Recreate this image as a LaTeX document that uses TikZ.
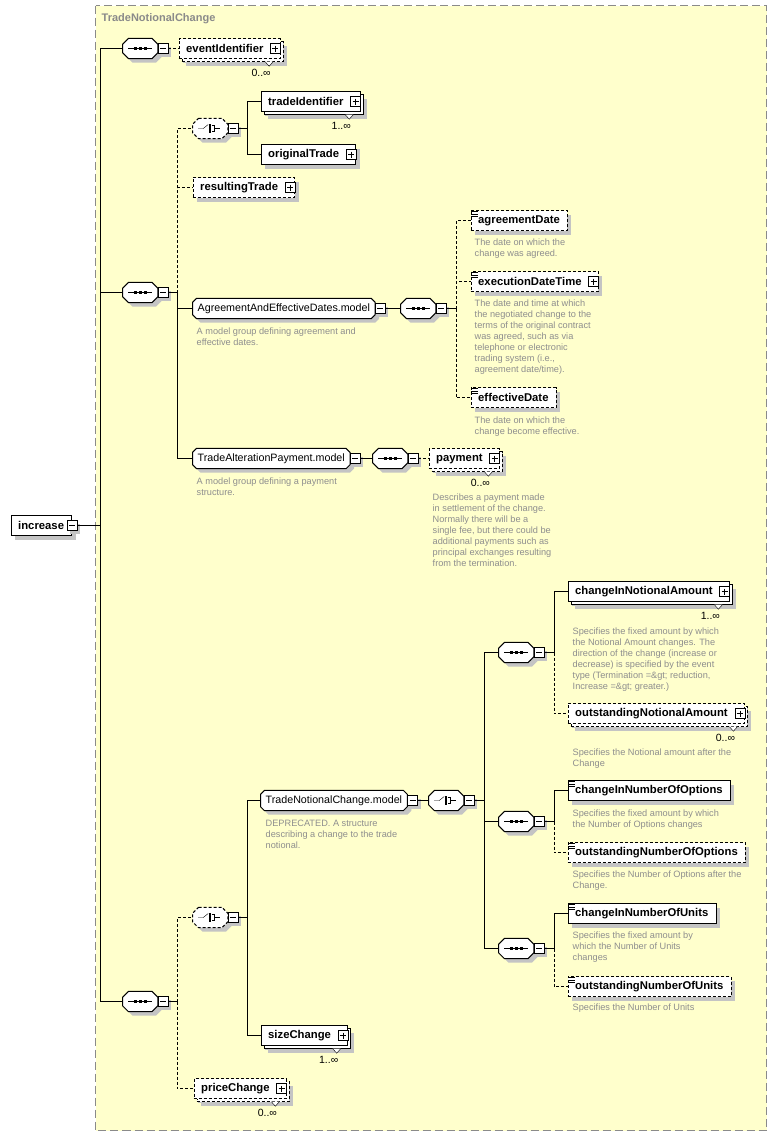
\documentclass[tikz,border=0pt]{standalone}
\usepackage{fontspec}
\setmainfont{Liberation Sans}
\usetikzlibrary{shadows}

\definecolor{schemabg}{HTML}{FFFFCC}
\definecolor{framegrey}{HTML}{8A8A8A}
\definecolor{shadowgrey}{HTML}{C4C4C4}
\definecolor{docgrey}{HTML}{8E8E8E}

\pgfdeclarelayer{frame}
\pgfdeclarelayer{shapes}
\pgfsetlayers{frame,shapes,main}

% octagon round a node: node, chamfer, offset
\newcommand\octopath[3]{([shift={(#2+#3,#3)}]#1.north west) -- ([shift={(-#2+#3,#3)}]#1.north east)
  -- ([shift={(#3,#2+#3)}]#1.north east) -- ([shift={(#3,-#2+#3)}]#1.south east)
  -- ([shift={(-#2+#3,#3)}]#1.south east) -- ([shift={(#2+#3,#3)}]#1.south west)
  -- ([shift={(#3,-#2+#3)}]#1.south west) -- ([shift={(#3,#2+#3)}]#1.north west) -- cycle}

\tikzset{
  shade4/.style={drop shadow={shadow xshift=4pt, shadow yshift=-4pt, fill=shadowgrey, opacity=1}},
  elem/.style={draw, fill=white, rectangle, anchor=west, minimum height=20pt,
    inner xsep=7.5pt, inner ysep=0pt, font=\fontsize{11.3}{13}\selectfont\bfseries, shade4},
  optional/.style={dash pattern=on 3pt off 2pt},
  many/.style={drop shadow={shadow xshift=7pt, shadow yshift=-7pt, fill=shadowgrey, opacity=1},
    copy shadow={shadow xshift=3pt, shadow yshift=-3pt}},
  expand/.style={execute at end node={\hspace{9pt}}},
  group/.style={rectangle, anchor=west, minimum width=35pt, minimum height=20pt, inner sep=0pt},
  gref/.style={rectangle, anchor=west, minimum height=20pt, inner xsep=5pt, inner ysep=0pt,
    font=\fontsize{10.7}{13}\selectfont},
  plusbox/.style={draw, fill=white, solid, minimum size=10pt, inner sep=0pt,
    path picture={
      \draw ([xshift=2pt]path picture bounding box.west) -- ([xshift=-2pt]path picture bounding box.east);
      \draw ([yshift=-2pt]path picture bounding box.north) -- ([yshift=2pt]path picture bounding box.south);}},
  minusbox/.style={draw, fill=white, solid, minimum size=10pt, inner sep=0pt, anchor=west,
    drop shadow={shadow xshift=3pt, shadow yshift=-3pt, fill=shadowgrey, opacity=1},
    path picture={
      \draw ([xshift=2pt]path picture bounding box.west) -- ([xshift=-2pt]path picture bounding box.east);}},
  doc/.style={anchor=north west, inner sep=0pt, align=left, text=docgrey,
    font=\fontsize{9.2}{11}\selectfont},
  mult/.style={inner sep=0pt, font=\fontsize{10.5}{12}\selectfont},
  optlink/.style={dash pattern=on 3pt off 2pt},
  pics/seqsym/.style={code={
    \draw (-12,0) -- (12,0);
    \foreach \dx in {-5,0,5} \fill (\dx-1.6,-1.6) rectangle ++(3.2,3.2);
  }},
  pics/chosym/.style={code={
    \draw (-12,0) -- (-7,0) -- (-2,-4);
    \foreach \dy in {-3,0,3} \fill (-1.2,\dy-1.1) rectangle ++(2.4,2.2);
    \draw (1.5,-3) -- (4,-3) -- (4,3) -- (1.5,3);
    \draw (4,0) -- (10,0);
  }},
}

\begin{document}
\begin{tikzpicture}[x=1pt, y=-1pt, line width=1pt]
\useasboundingbox (0,0) rectangle (776,1136);
\begin{scope}[shift={(0.5,0.5)}]
% frame of the complex type
\begin{pgfonlayer}{frame}
\draw[framegrey, line width=1pt, fill=schemabg, dash pattern=on 8pt off 4pt] (95,5) rectangle (766,1130);
\end{pgfonlayer}
\node[anchor=west, inner sep=0pt, text=framegrey, font=\fontsize{11}{13}\selectfont\bfseries] (title) at (101,18) {TradeNotionalChange};

% root element
\node[elem] (inc) at (10,525) {increase\hspace{5pt}};

% compositors
\node[group] (seqA) at (122,48) {};
\node[group] (seqB) at (122,292) {};
\node[group] (seqE) at (122,1001) {};
\node[group] (choA) at (192,128) {};
\node[group] (choB) at (192,917) {};
\node[group] (seqC) at (400,308) {};
\node[group] (seqD) at (372,458) {};
\node[group] (choC) at (428,800) {};
\node[group] (seqF) at (498,652) {};
\node[group] (seqG) at (498,821) {};
\node[group] (seqH) at (498,948) {};

% model groups
\node[gref] (aed) at (192,308) {AgreementAndEffectiveDates.model};
\node[gref] (tap) at (192,458) {TradeAlterationPayment.model};
\node[gref] (tnc) at (260,800) {TradeNotionalChange.model};

\begin{pgfonlayer}{shapes}
\begin{scope}[line width=1pt]
\foreach \n/\c in {seqA/6,seqB/6,seqE/6,choA/6,choB/6,seqC/6,seqD/6,choC/6,seqF/6,seqG/6,seqH/6,aed/4,tap/4,tnc/4}
  \fill[shadowgrey] \octopath{\n}{\c}{4};
\foreach \n/\c in {seqA/6,seqB/6,seqE/6,seqC/6,seqD/6,choC/6,seqF/6,seqG/6,seqH/6,aed/4,tap/4,tnc/4}
  \draw[fill=white] \octopath{\n}{\c}{0};
\foreach \n in {choA,choB}
  \draw[fill=white, optional] \octopath{\n}{6}{0};
\end{scope}
\end{pgfonlayer}
\foreach \n in {seqA,seqB,seqE,seqC,seqD,seqF,seqG,seqH} \pic at (\n) {seqsym};
\foreach \n in {choA,choB,choC} \pic at (\n) {chosym};

% elements
\node[elem, optional, many, expand] (evid) at (178,48) {eventIdentifier};
\node[elem, many, expand] (trid) at (260,101) {tradeIdentifier};
\node[elem, expand] (orig) at (260,154) {originalTrade};
\node[elem, optional, expand] (rest) at (192,187) {resultingTrade};
\node[elem, optional] (agd) at (470,220) {agreementDate};
\node[elem, optional, expand] (edt) at (470,281) {executionDateTime};
\node[elem, optional] (efd) at (470,397) {effectiveDate};
\node[elem, optional, many, expand] (pay) at (428,458) {payment};
\node[elem, many, expand] (cina) at (567,591) {changeInNotionalAmount};
\node[elem, optional, many, expand] (ona) at (567,713) {outstandingNotionalAmount};
\node[elem] (cino) at (567,790) {changeInNumberOfOptions};
\node[elem, optional] (ono) at (567,852) {outstandingNumberOfOptions};
\node[elem] (cinu) at (567,913) {changeInNumberOfUnits};
\node[elem, optional] (onu) at (567,986) {outstandingNumberOfUnits};
\node[elem, many, expand] (size) at (260,1035) {sizeChange};
\node[elem, optional, many, expand] (price) at (193,1088) {priceChange};

% simple content marks
\foreach \n in {agd,edt,efd,cino,ono,cinu,onu}
  \foreach \k in {1,3.5,6} \draw ([shift={(0.5,\k)}]\n.north west) -- ++(6.5,0);

% expand / collapse boxes
\foreach \n in {evid,trid,orig,rest,edt,pay,cina,ona,size,price}
  \node[plusbox, anchor=east] (\n-p) at ([xshift=0.5pt]\n.east) {};
\node[minusbox] (inc-m) at ([xshift=-5pt]inc.east) {};
\foreach \n in {seqA,seqB,seqE,choA,choB,seqC,seqD,choC,seqF,seqG,seqH,aed,tap,tnc}
  \node[minusbox] (\n-m) at (\n.east) {};

% occurrences
\foreach \n/\m in {evid/0,trid/1,pay/0,cina/1,ona/0,size/1,price/0} {
  \draw[fill=white] ([shift={(-15,3)}]\n.south east) -- ++(4,4.5) -- ++(4,-4.5);
  \node[mult] (\n-n) at ([shift={(-19,14)}]\n.south east) {\m..∞};
}

% connectors
\draw (inc-m.east) -- ++(23,0) coordinate (busInc);
\draw (busInc) |- (seqA.west);
\draw (busInc) |- (seqB.west);
\draw (busInc) |- (seqE.west);

\draw[optlink] (seqA-m.east) -- (evid.west);

\draw (seqB-m.east) -- ++(9,0) coordinate (busB);
\draw[optlink] (busB) |- (choA.west);
\draw[optlink] (busB) |- (rest.west);
\draw (busB) |- (aed.west);
\draw (busB) |- (tap.west);

\draw (choA-m.east) -- ++(9,0) coordinate (busCA);
\draw (busCA) |- (trid.west);
\draw (busCA) |- (orig.west);

\draw (aed-m.east) -- (seqC.west);
\draw (seqC-m.east) -- ++(10,0) coordinate (busC);
\draw[optlink] (busC) |- (agd.west);
\draw[optlink] (busC) |- (edt.west);
\draw[optlink] (busC) |- (efd.west);

\draw (tap-m.east) -- (seqD.west);
\draw[optlink] (seqD-m.east) -- (pay.west);

\draw (seqE-m.east) -- ++(9,0) coordinate (busE);
\draw[optlink] (busE) |- (choB.west);
\draw[optlink] (busE) |- (price.west);

\draw (choB-m.east) -- ++(9,0) coordinate (busCB);
\draw (busCB) |- (tnc.west);
\draw (busCB) |- (size.west);

\draw (tnc-m.east) -- (choC.west);
\draw (choC-m.east) -- ++(10,0) coordinate (busCC);
\draw (busCC) |- (seqF.west);
\draw (busCC) |- (seqG.west);
\draw (busCC) |- (seqH.west);

\draw (seqF-m.east) -- ++(10,0) coordinate (busF);
\draw (busF) |- (cina.west);
\draw[optlink] (busF) |- (ona.west);
\draw (seqG-m.east) -- ++(10,0) coordinate (busG);
\draw (busG) |- (cino.west);
\draw[optlink] (busG) |- (ono.west);
\draw (seqH-m.east) -- ++(10,0) coordinate (busH);
\draw (busH) |- (cinu.west);
\draw[optlink] (busH) |- (onu.west);

% documentation
\node[doc] (aed-d) at (196,327.5) {A model group defining agreement and\\effective dates.};
\node[doc] (agd-d) at (474,238.5) {The date on which the\\change was agreed.};
\node[doc] (edt-d) at (474,299.5) {The date and time at which\\the negotiated change to the\\terms of the original contract\\was agreed, such as via\\telephone or electronic\\trading system (i.e.,\\agreement date/time).};
\node[doc] (efd-d) at (474,416.5) {The date on which the\\change become effective.};
\node[doc] (tap-d) at (196,477.5) {A model group defining a payment\\structure.};
\node[doc] (pay-d) at (432,493.5) {Describes a payment made\\in settlement of the change.\\Normally there will be a\\single fee, but there could be\\additional payments such as\\principal exchanges resulting\\from the termination.};
\node[doc] (tnc-d) at (265,819.5) {DEPRECATED. A structure\\describing a change to the trade\\notional.};
\node[doc] (cina-d) at (572,627.5) {Specifies the fixed amount by which\\the Notional Amount changes. The\\direction of the change (increase or\\decrease) is specified by the event\\type (Termination =\&gt; reduction,\\Increase =\&gt; greater.)};
\node[doc] (ona-d) at (572,748.5) {Specifies the Notional amount after the\\Change};
\node[doc] (cino-d) at (572,809.5) {Specifies the fixed amount by which\\the Number of Options changes};
\node[doc] (ono-d) at (572,870.5) {Specifies the Number of Options after the\\Change.};
\node[doc] (cinu-d) at (572,931.5) {Specifies the fixed amount by\\which the Number of Units\\changes};
\node[doc] (onu-d) at (572,1003.5) {Specifies the Number of Units};
\end{scope}
\end{tikzpicture}
\end{document}
